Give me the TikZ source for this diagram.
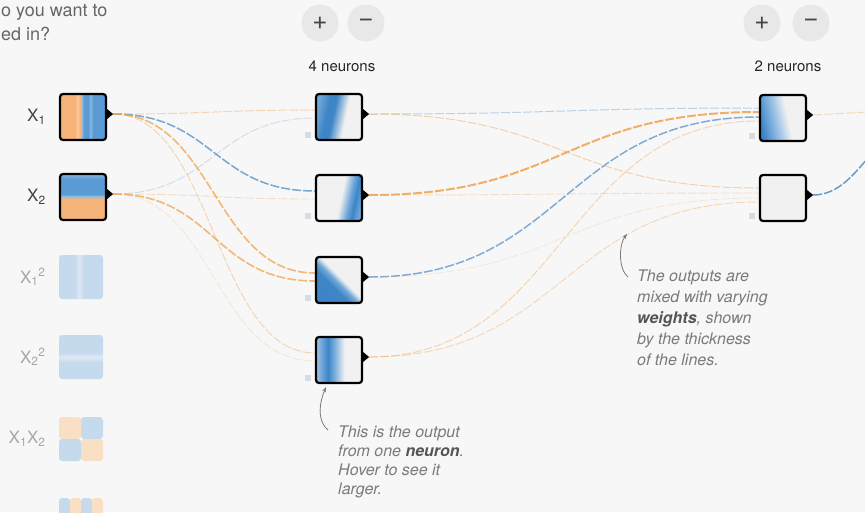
\documentclass[tikz,border=0pt]{standalone}
\usepackage{fontspec}
\setmainfont{TeX Gyre Heros}
\usepackage{tikz}
\usetikzlibrary{arrows.meta, positioning, backgrounds}

\definecolor{bgc}{HTML}{F7F7F7}
\definecolor{orng}{HTML}{F6B379}
\definecolor{orngl}{HTML}{F8C79A}
\definecolor{blu}{HTML}{5A9BD5}
\definecolor{blul}{HTML}{8DB9E2}
\definecolor{nblu}{HTML}{3D85C6}
\definecolor{nblum}{HTML}{6FA6D9}
\definecolor{nblul}{HTML}{A9C9E8}
\definecolor{nwhite}{HTML}{F1F1F1}
\definecolor{fblu}{HTML}{C6DAEE}
\definecolor{fblul}{HTML}{DDE8F3}
\definecolor{forng}{HTML}{F9DFC4}
\definecolor{linko}{HTML}{F1A24F}
\definecolor{linkb}{HTML}{4C8DC9}
\definecolor{txtgray}{HTML}{444444}
\definecolor{lblfade}{HTML}{A8A8A8}
\definecolor{notegray}{HTML}{7A7A7A}
\definecolor{notebold}{HTML}{555555}
\definecolor{btnfill}{HTML}{E8E8E8}
\definecolor{biasc}{HTML}{D6DCE3}

% shadings for the little heat maps
\pgfdeclarehorizontalshading{xoneshade}{100bp}{color(0bp)=(orng); color(25bp)=(orng); color(41bp)=(orng); color(44bp)=(orngl); color(47bp)=(orng); color(49bp)=(blul); color(51bp)=(blu); color(56bp)=(blu); color(58bp)=(blul); color(61bp)=(blu); color(75bp)=(blu); color(100bp)=(blu)}
\pgfdeclareverticalshading{xtwoshade}{100bp}{color(0bp)=(orng); color(25bp)=(orng); color(48bp)=(orng); color(51bp)=(blul); color(53bp)=(blu); color(70bp)=(blu); color(75bp)=(blul); color(100bp)=(blul)}
\pgfdeclarehorizontalshading{sqoneshade}{100bp}{color(0bp)=(fblu); color(25bp)=(fblu); color(43bp)=(fblu); color(48bp)=(fblul); color(53bp)=(fblu); color(75bp)=(fblu); color(100bp)=(fblu)}
\pgfdeclareverticalshading{sqtwoshade}{100bp}{color(0bp)=(fblu); color(25bp)=(fblu); color(44bp)=(fblu); color(50bp)=(fblul); color(55bp)=(fblu); color(75bp)=(fblu); color(100bp)=(fblu)}
\pgfdeclarehorizontalshading{noneshade}{100bp}{color(0bp)=(nblum); color(25bp)=(nblum); color(36bp)=(nblu); color(43bp)=(nblu); color(57bp)=(nwhite); color(100bp)=(nwhite)}
\pgfdeclarehorizontalshading{ntwoshade}{100bp}{color(0bp)=(nwhite); color(52bp)=(nwhite); color(62bp)=(nblum); color(68bp)=(nblu); color(75bp)=(nblum); color(100bp)=(nblum)}
\pgfdeclarehorizontalshading{nthreeshade}{100bp}{color(0bp)=(nblu); color(40bp)=(nblu); color(47bp)=(nblum); color(53bp)=(nwhite); color(100bp)=(nwhite)}
\pgfdeclarehorizontalshading{nfourshade}{100bp}{color(0bp)=(nblul); color(25bp)=(nblul); color(31bp)=(nblum); color(38bp)=(nblu); color(44bp)=(nblum); color(56bp)=(nwhite); color(100bp)=(nwhite)}
\pgfdeclarehorizontalshading{nfiveshade}{100bp}{color(0bp)=(nblu); color(25bp)=(nblu); color(34bp)=(nblum); color(44bp)=(nblul); color(55bp)=(nwhite); color(100bp)=(nwhite)}

\tikzstyle{featbox} = [draw=black, line width=2.2pt, rounded corners=3pt,
  minimum size=46pt, inner sep=0pt]
\tikzstyle{fadedbox} = [rounded corners=3pt, minimum size=44pt, inner sep=0pt]
\tikzstyle{featlabel} = [font=\fontsize{17}{20}\selectfont, text=txtgray, inner sep=0pt]
\tikzstyle{fadelabel} = [featlabel, text=lblfade]
\tikzstyle{btn} = [circle, fill=btnfill, minimum size=37pt, inner sep=0pt,
  text=txtgray, font=\fontsize{26}{26}\selectfont]
\tikzstyle{countlabel} = [font=\fontsize{15}{18}\selectfont, text=black!85, inner sep=0pt]
\tikzstyle{question} = [font=\fontsize{18}{22}\selectfont, text=black!60, inner sep=0pt]
\tikzstyle{note} = [align=left, inner sep=0pt, text=notegray]
\tikzstyle{notearrow} = [draw=notegray, line width=0.8pt, -{Stealth[length=5pt, width=4pt]}]
\tikzstyle{wire} = [dash pattern=on 9pt off 2pt]

\begin{document}
\begin{tikzpicture}[x=1pt, y=-1pt]
    \useasboundingbox (0,0) rectangle (865,512);
    \clip (0,0) rectangle (865,512);
    \begin{scope}[on background layer]
      \fill[bgc] (0,0) rectangle (865,512);
    \end{scope}

    % top text
    \node[question, anchor=base west] (q1) at (1,16) {o you want to};
    \node[question, anchor=base west] (q2) at (1,40) {ed in?};

    % input features
    \node[featbox, shading=xoneshade] (x1) at (83,117) {};
    \node[featbox, shading=xtwoshade] (x2) at (83,197) {};
    \node[fadedbox, shading=sqoneshade] (xsq1) at (81,277) {};
    \node[fadedbox, shading=sqtwoshade] (xsq2) at (81,357) {};
    \node[fadedbox, path picture={
        \fill[forng] (path picture bounding box.north west) rectangle (path picture bounding box.center);
        \fill[fblu] (path picture bounding box.north east) rectangle (path picture bounding box.center);
        \fill[fblu] (path picture bounding box.south west) rectangle (path picture bounding box.center);
        \fill[forng] (path picture bounding box.south east) rectangle (path picture bounding box.center);
      }] (xprod) at (81,439) {};
    \node[fadedbox, path picture={
        \foreach \i/\c in {0/fblu, 1/forng, 2/fblu, 3/forng}
          \fill[\c] ([xshift=\i*11pt]path picture bounding box.north west) rectangle ++(11,44);
      }] (xsin) at (81,520) {};

    \node[featlabel, left=13pt of x1] (lx1) {X\textsubscript{1}};
    \node[featlabel, left=13pt of x2] (lx2) {X\textsubscript{2}};
    \node[fadelabel, left=13pt of xsq1] (lsq1) {X\textsubscript{1}\textsuperscript{2}};
    \node[fadelabel, left=13pt of xsq2] (lsq2) {X\textsubscript{2}\textsuperscript{2}};
    \node[fadelabel, left=13pt of xprod] (lprod) {X\textsubscript{1}X\textsubscript{2}};

    % first hidden layer
    \node[btn] (addone) at (320,23) {+};
    \node[btn] (subone) at (366,23) {−};
    \node[countlabel] (cntone) at (342,66) {4 neurons};
    \node[featbox, shading=noneshade, shading angle=-12] (h1a) at (339,117) {};
    \node[featbox, shading=ntwoshade, shading angle=-12] (h1b) at (339,198) {};
    \node[featbox, shading=nthreeshade, shading angle=45] (h1c) at (339,280) {};
    \node[featbox, shading=nfourshade] (h1d) at (339,360) {};

    % second hidden layer
    \node[btn] (addtwo) at (762,23) {+};
    \node[btn] (subtwo) at (811,23) {−};
    \node[countlabel] (cnttwo) at (788,66) {2 neurons};
    \node[featbox, shading=nfiveshade, shading angle=12] (h2a) at (783,118) {};
    \node[featbox, fill=nwhite] (h2b) at (783,198) {};

    % output tips and bias squares
    \foreach \n in {x1, x2, h1a, h1b, h1c, h1d, h2a, h2b} {
      \fill ([yshift=8pt]\n.east) -- ([xshift=6pt, yshift=3pt]\n.east) -- ([yshift=-2pt]\n.east) -- cycle;
      \coordinate (\n-out) at ([xshift=6pt, yshift=3pt]\n.east);
    }
    \foreach \n in {h1a, h1b, h1c, h1d, h2a, h2b}
      \fill[biasc] ([xshift=-10pt, yshift=3pt]\n.south west) rectangle ++(6,-6);

    \begin{scope}[on background layer]
      % inputs -> first layer
      \foreach \src/\dst/\dy/\col/\op/\w in {
          x1/h1a/7/linko/.4/1, x2/h1a/-1/linkb/.25/.9,
          x1/h1b/7/linkb/.75/1.5, x2/h1b/-1/linko/.3/.9,
          x1/h1c/7/linko/.75/1.6, x2/h1c/-1/linko/.75/1.6,
          x1/h1d/7/linko/.4/1, x2/h1d/-1/linko/.2/.9}
        \draw[wire, draw=\col, draw opacity=\op, line width=\w pt]
          (\src-out) .. controls +(101,0) and +(-101,0) .. ([yshift=\dy pt]\dst.west);
      % first layer -> second layer
      \foreach \src/\dst/\dy/\col/\op/\w in {
          h1a/h2a/10/linkb/.35/1, h1a/h2b/10/linko/.45/1,
          h1b/h2a/6/linko/.85/2, h1b/h2b/5/linko/.3/.9,
          h1c/h2a/1/linkb/.7/1.5, h1c/h2b/0/linko/.2/.8,
          h1d/h2a/-3/linko/.4/1, h1d/h2b/-4/linko/.35/1}
        \draw[wire, draw=\col, draw opacity=\op, line width=\w pt]
          (\src-out) .. controls +(195,0) and +(-195,0) .. ([yshift=\dy pt]\dst.west);
      % towards the output
      \coordinate (outa) at (868,112);
      \coordinate (outb) at (868,158);
      \draw[wire, draw=linko, draw opacity=.35, line width=1pt] (h2a-out) -- (outa);
      \draw[wire, draw=linkb, draw opacity=.85, line width=1.5pt]
        (h2b-out) .. controls +(25,0) and +(-14,16) .. (outb);
    \end{scope}

    % notes
    \node[note, font=\fontsize{16}{19}\selectfont\itshape, anchor=north west] (noteneuron) at (338,426)
      {This is the output\\from one \textbf{\textcolor{notebold}{neuron}}.\\Hover to see it\\larger.};
    \draw[notearrow] ([xshift=-10pt, yshift=-4pt]noteneuron.north west)
      .. controls +(-12,-10) and +(-6,14) .. ([xshift=-13pt, yshift=-3pt]h1d.south);

    \node[note, font=\fontsize{16}{21}\selectfont\itshape, anchor=north west] (noteweights) at (637,270)
      {The outputs are\\mixed with varying\\\textbf{\textcolor{notebold}{weights}}, shown\\by the thickness\\of the lines.};
    \coordinate (mixpoint) at (627,234);
    \draw[notearrow] ([xshift=-9pt, yshift=-7pt]noteweights.north west)
      .. controls +(-10,-8) and +(-8,10) .. (mixpoint);
\end{tikzpicture}
\end{document}
